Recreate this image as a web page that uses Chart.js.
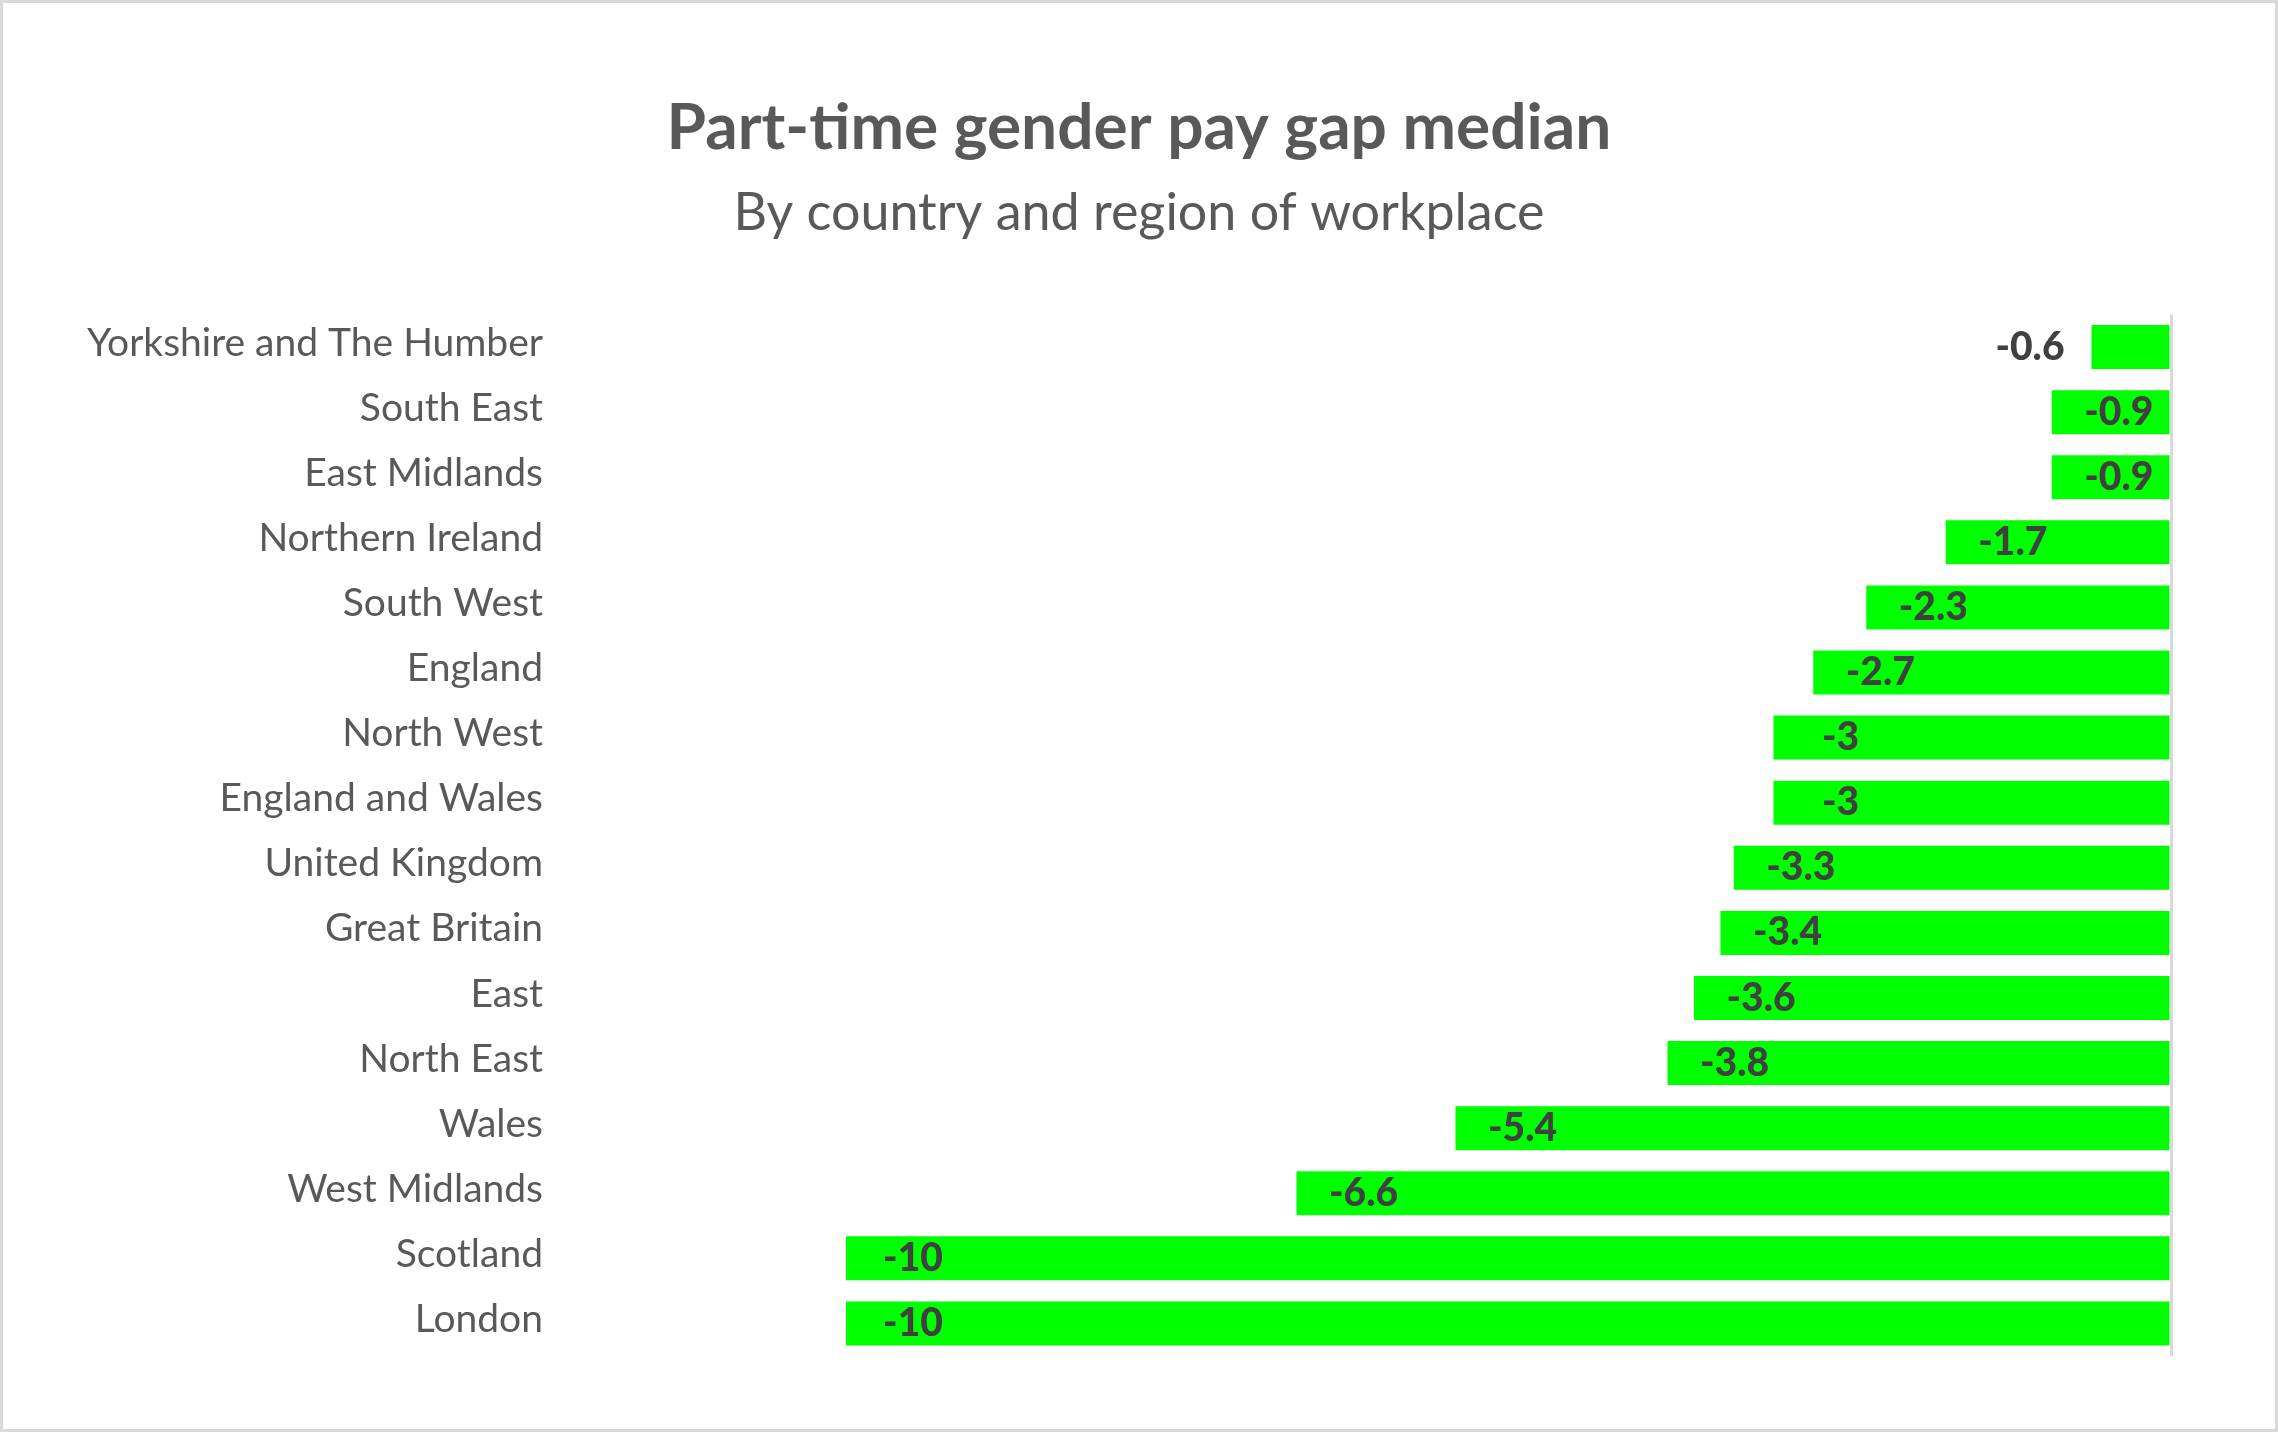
<!DOCTYPE html>
<html>
<head>
<meta charset="utf-8">
<title>Part-time gender pay gap median</title>
<script src="https://cdn.jsdelivr.net/npm/chart.js@4.4.1/dist/chart.umd.min.js"></script>
<style>
  html, body { margin: 0; padding: 0; background: #ffffff; }
  #chart { display: block; }
</style>
</head>
<body>
<canvas id="chart" width="2278" height="1432" style="width:2278px;height:1432px"></canvas>
<script>
// Regions, top to bottom as in the chart
const regions = [
    'Yorkshire and The Humber',
    'South East',
    'East Midlands',
    'Northern Ireland',
    'South West',
    'England',
    'North West',
    'England and Wales',
    'United Kingdom',
    'Great Britain',
    'East',
    'North East',
    'Wales',
    'West Midlands',
    'Scotland',
    'London'
];

// Part-time median gender pay gap (%)
const payGap = [-0.6, -0.9, -0.9, -1.7, -2.3, -2.7, -3, -3, -3.3, -3.4, -3.6, -3.8, -5.4, -6.6, -10, -10];

const FONT = "Lato, 'Noto Sans', sans-serif";

// White background + thin grey frame round the whole chart
const framePlugin = {
    id: 'frame',
    beforeDraw(chart) {
        const ctx = chart.ctx;
        ctx.save();
        ctx.fillStyle = '#ffffff';
        ctx.fillRect(0, 0, chart.width, chart.height);
        ctx.strokeStyle = '#d9d9d9';
        ctx.lineWidth = 3;
        ctx.strokeRect(1.5, 1.5, chart.width - 3, chart.height - 3);
        ctx.restore();
    }
};

// Value labels near the end of each bar, moved outside when the bar is too short
const valueLabels = {
    id: 'valueLabels',
    afterDatasetsDraw(chart) {
        const ctx = chart.ctx;
        const meta = chart.getDatasetMeta(0);
        ctx.save();
        ctx.font = '900 39px ' + FONT;
        ctx.fillStyle = '#404040';
        ctx.textBaseline = 'middle';
        meta.data.forEach((bar, i) => {
            const txt = String(payGap[i]);
            const left = Math.min(bar.x, bar.base);
            const right = Math.max(bar.x, bar.base);
            const tw = ctx.measureText(txt).width;
            if (left + 67 + tw / 2 <= right - 4) {
                ctx.textAlign = 'center';
                ctx.fillText(txt, left + 67, bar.y);
            } else {
                ctx.textAlign = 'right';
                ctx.fillText(txt, left - 27, bar.y);
            }
        });
        ctx.restore();
    }
};

new Chart(document.getElementById('chart'), {
    type: 'bar',
    data: {
        labels: regions,
        datasets: [{
            data: payGap,
            backgroundColor: '#00ff00',
            borderWidth: 0,
            categoryPercentage: 1,
            barPercentage: 0.676
        }]
    },
    plugins: [framePlugin, valueLabels],
    options: {
        indexAxis: 'y',
        responsive: false,
        animation: false,
        devicePixelRatio: 1,
        layout: {
            padding: { left: 40, right: 40, top: 0, bottom: 76 }
        },
        plugins: {
            legend: { display: false },
            tooltip: { enabled: false },
            title: {
                display: true,
                text: 'Part-time gender pay gap median',
                color: '#595959',
                font: { family: FONT, size: 64, weight: 'bold', lineHeight: 1 },
                padding: { top: 96, bottom: 0 }
            },
            subtitle: {
                display: true,
                text: 'By country and region of workplace',
                color: '#595959',
                font: { family: FONT, size: 52, weight: 'normal', lineHeight: 1 },
                padding: { top: 27, bottom: 75.5 }
            }
        },
        scales: {
            x: {
                min: -12,
                max: 0,
                border: { display: false },
                grid: {
                    drawTicks: false,
                    lineWidth: 3,
                    color: (c) => (c.tick && c.tick.value === 0 ? '#d9d9d9' : 'rgba(0,0,0,0)')
                },
                ticks: { display: false, stepSize: 2 }
            },
            y: {
                border: { display: false },
                grid: { display: false, drawTicks: false },
                ticks: {
                    color: '#595959',
                    padding: 38,
                    labelOffset: -4,
                    font: { family: FONT, size: 39 }
                },
                afterFit(scale) {
                    scale.width = 541;
                }
            },
            // empty spacer on the right so the titles stay centred on the page
            spacer: {
                type: 'linear',
                axis: 'y',
                position: 'right',
                border: { display: false },
                grid: { display: false, drawTicks: false },
                ticks: { display: false },
                afterFit(scale) {
                    scale.width = 67;
                }
            }
        }
    }
});
</script>
</body>
</html>
